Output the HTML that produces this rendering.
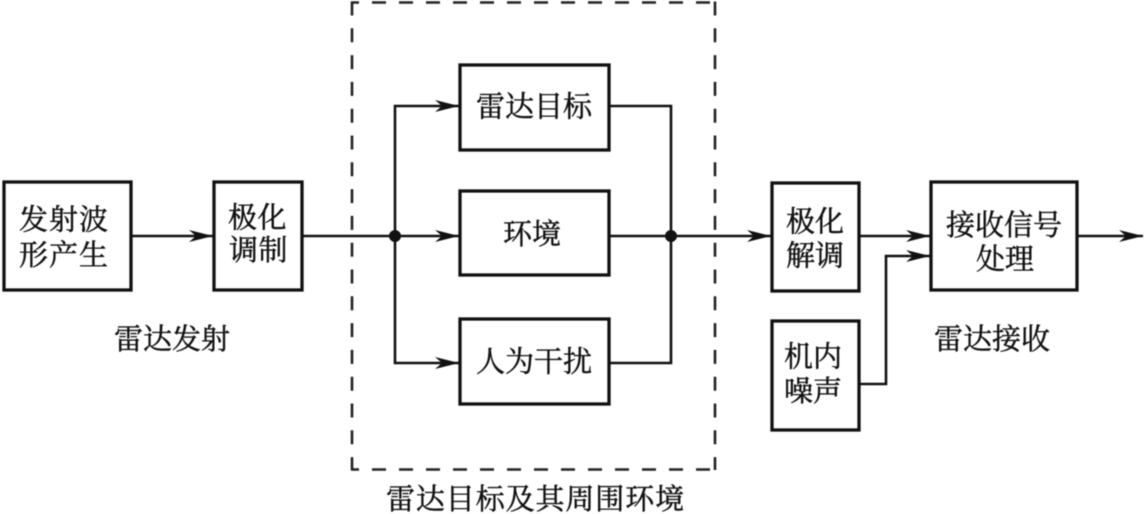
<!DOCTYPE html>
<html><head><meta charset="utf-8"><style>html,body{margin:0;padding:0;background:#fff}svg{display:block;filter:blur(.45px)}text{font-family:"Liberation Serif","Noto Serif CJK SC",serif;font-size:29px;fill:#111;stroke:#111;stroke-width:.45px;text-anchor:start}</style></head><body>
<svg width="1145" height="514" viewBox="0 0 1145 514" xmlns="http://www.w3.org/2000/svg">
<defs><marker id="a" markerWidth="30" markerHeight="14" refX="24" refY="6.5" markerUnits="userSpaceOnUse" orient="auto"><path d="M0,0.5 L24,6.5 L0,12.5 L7,6.5 Z" fill="#111"/></marker></defs>
<g fill="none" stroke="#222" stroke-width="2.6">
<path d="M352,1.5 V470" stroke-dasharray="14 12.8"/>
<path d="M715,1.5 V470" stroke-dasharray="14 12.8"/>
<path d="M351,2.5 H716" stroke-dasharray="14 13" stroke-dashoffset="6"/>
<path d="M351,469.5 H716" stroke-dasharray="14 13" stroke-dashoffset="6"/>
</g>
<g fill="none" stroke="#111" stroke-width="3.3">
<rect x="4" y="182" width="127" height="108"/>
<rect x="214" y="182" width="88" height="108"/>
<rect x="460" y="65" width="149" height="85"/>
<rect x="460" y="191" width="149" height="84"/>
<rect x="460" y="319" width="149" height="85"/>
<rect x="772" y="183" width="87" height="108"/>
<rect x="772" y="321" width="87" height="109"/>
<rect x="931" y="182" width="146" height="108"/>
</g>
<g fill="none" stroke="#111" stroke-width="2.6">
<path d="M131,236 H213" marker-end="url(#a)"/>
<path d="M302,236 H459" marker-end="url(#a)"/>
<path d="M395,236 V106 H459" marker-end="url(#a)"/>
<path d="M395,236 V363 H459" marker-end="url(#a)"/>
<path d="M609,106 H671 V363 H609"/>
<path d="M609,236 H771" marker-end="url(#a)"/>
<path d="M859,236 H930" marker-end="url(#a)"/>
<path d="M859,384 H886 V256 H930" marker-end="url(#a)"/>
<path d="M1077,236 H1143" marker-end="url(#a)"/>
</g>
<circle cx="395" cy="236" r="6" fill="#111"/><circle cx="671" cy="236" r="6" fill="#111"/>
<text x="19" y="229.5" letter-spacing="1">发射波</text><text x="19" y="265" letter-spacing="1">形产生</text>
<text x="228" y="227.5" letter-spacing=".5">极化</text><text x="229" y="260" letter-spacing=".5">调制</text>
<text x="476" y="116.5">雷达目标</text><text x="503" y="244">环境</text><text x="476" y="371.5">人为干扰</text>
<text x="786" y="231.5">极化</text><text x="786" y="265.5">解调</text>
<text x="784" y="366.5">机内</text><text x="784" y="401">噪声</text>
<text x="946" y="235">接收信号</text><text x="976" y="269">处理</text>
<text x="114" y="349">雷达发射</text><text x="934" y="349">雷达接收</text>
<text x="386" y="509" letter-spacing=".9">雷达目标及其周围环境</text>
</svg></body></html>
